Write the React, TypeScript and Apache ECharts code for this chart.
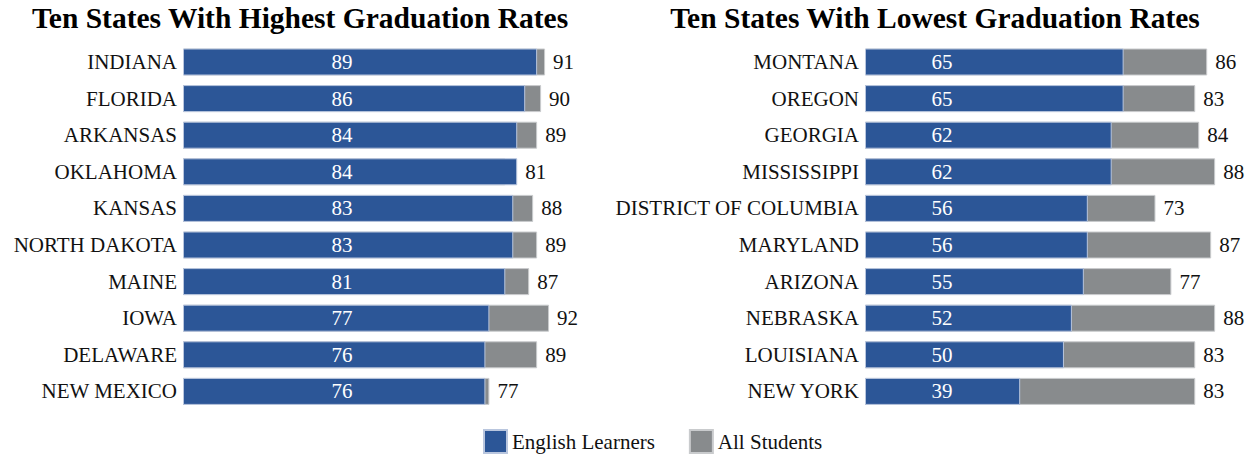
import React, { useEffect, useRef } from "react";
import * as echarts from "echarts";

const highStates = ["INDIANA", "FLORIDA", "ARKANSAS", "OKLAHOMA", "KANSAS", "NORTH DAKOTA", "MAINE", "IOWA", "DELAWARE", "NEW MEXICO"];
const highEL = [89, 86, 84, 84, 83, 83, 81, 77, 76, 76];
const highAll = [91, 90, 89, 81, 88, 89, 87, 92, 89, 77];

const lowStates = ["MONTANA", "OREGON", "GEORGIA", "MISSISSIPPI", "DISTRICT OF COLUMBIA", "MARYLAND", "ARIZONA", "NEBRASKA", "LOUISIANA", "NEW YORK"];
const lowEL = [65, 65, 62, 62, 56, 56, 55, 52, 50, 39];
const lowAll = [86, 83, 84, 88, 73, 87, 77, 88, 83, 83];

const titles = ["Ten States With Highest Graduation Rates", "Ten States With Lowest Graduation Rates"];
const seriesNames = ["English Learners", "All Students"];

const BLUE = "#2C5697";
const GRAY = "#888B8D";
const FONT = "'Liberation Serif', 'Times New Roman', serif";
const FS = 21;

export default function App() {
  const ref = useRef<HTMLDivElement>(null);
  useEffect(() => {
    document.body.style.margin = "0";
    const chart = echarts.init(ref.current!, undefined, { renderer: "svg" });
    const panels = [
      { states: highStates, el: highEL, all: highAll, labelX: 159 },
      { states: lowStates, el: lowEL, all: lowAll, labelX: 77 },
    ];
    const grids = [
      { left: 183, width: 378, top: 43.7, height: 366 },
      { left: 865, width: 378, top: 43.7, height: 366 },
    ];
    const series: any[] = [];
    panels.forEach((p, i) => {
      series.push({
        name: seriesNames[1],
        type: "bar",
        xAxisIndex: i,
        yAxisIndex: i,
        data: p.all,
        barWidth: 27,
        barGap: "-100%",
        itemStyle: { color: GRAY, borderColor: "#c9cbcd", borderWidth: 1 },
        z: 2,
      });
      series.push({
        name: seriesNames[0],
        type: "bar",
        xAxisIndex: i,
        yAxisIndex: i,
        data: p.el,
        barWidth: 27,
        barGap: "-100%",
        itemStyle: { color: BLUE, borderColor: "#b9c6de", borderWidth: 1 },
        label: {
          show: true,
          position: [p.labelX, "50%"],
          align: "center",
          verticalAlign: "middle",
          color: "#ffffff",
          fontFamily: FONT,
          fontSize: FS,
        },
        z: 3,
      });
      series.push({
        name: "labels" + i,
        type: "bar",
        xAxisIndex: i,
        yAxisIndex: i,
        data: p.all.map((v, k) => Math.max(v, p.el[k])),
        barWidth: 27,
        barGap: "-100%",
        silent: true,
        itemStyle: { color: "rgba(0,0,0,0)" },
        label: {
          show: true,
          position: "right",
          distance: 8,
          color: "#111111",
          fontFamily: FONT,
          fontSize: FS,
          formatter: (prm: any) => String(p.all[prm.dataIndex]),
        },
        z: 4,
      });
    });
    chart.setOption({
      animation: false,
      textStyle: { fontFamily: FONT },
      title: titles.map((t, i) => ({
        text: t,
        left: i === 0 ? 300 : 935,
        top: 3,
        padding: 0,
        textAlign: "center",
        textStyle: { fontFamily: FONT, fontSize: 29.5, fontWeight: "bold", color: "#000000" },
      })),
      legend: {
        data: seriesNames,
        left: 483,
        top: 429,
        padding: 0,
        itemWidth: 23,
        itemHeight: 23,
        itemGap: 34,
        icon: "rect",
        textStyle: { fontFamily: FONT, fontSize: FS, color: "#111111" },
      },
      grid: grids,
      xAxis: grids.map((_, i) => ({
        type: "value",
        gridIndex: i,
        min: 0,
        max: 95,
        show: false,
        splitLine: { show: false },
      })),
      yAxis: panels.map((p, i) => ({
        type: "category",
        gridIndex: i,
        data: p.states,
        inverse: true,
        axisLine: { show: false },
        axisTick: { show: false },
        axisLabel: { fontFamily: FONT, fontSize: FS, color: "#111111", margin: 6 },
      })),
      series,
    });
    return () => chart.dispose();
  }, []);
  return <div ref={ref} style={{ width: 1246, height: 456 }} />;
}
